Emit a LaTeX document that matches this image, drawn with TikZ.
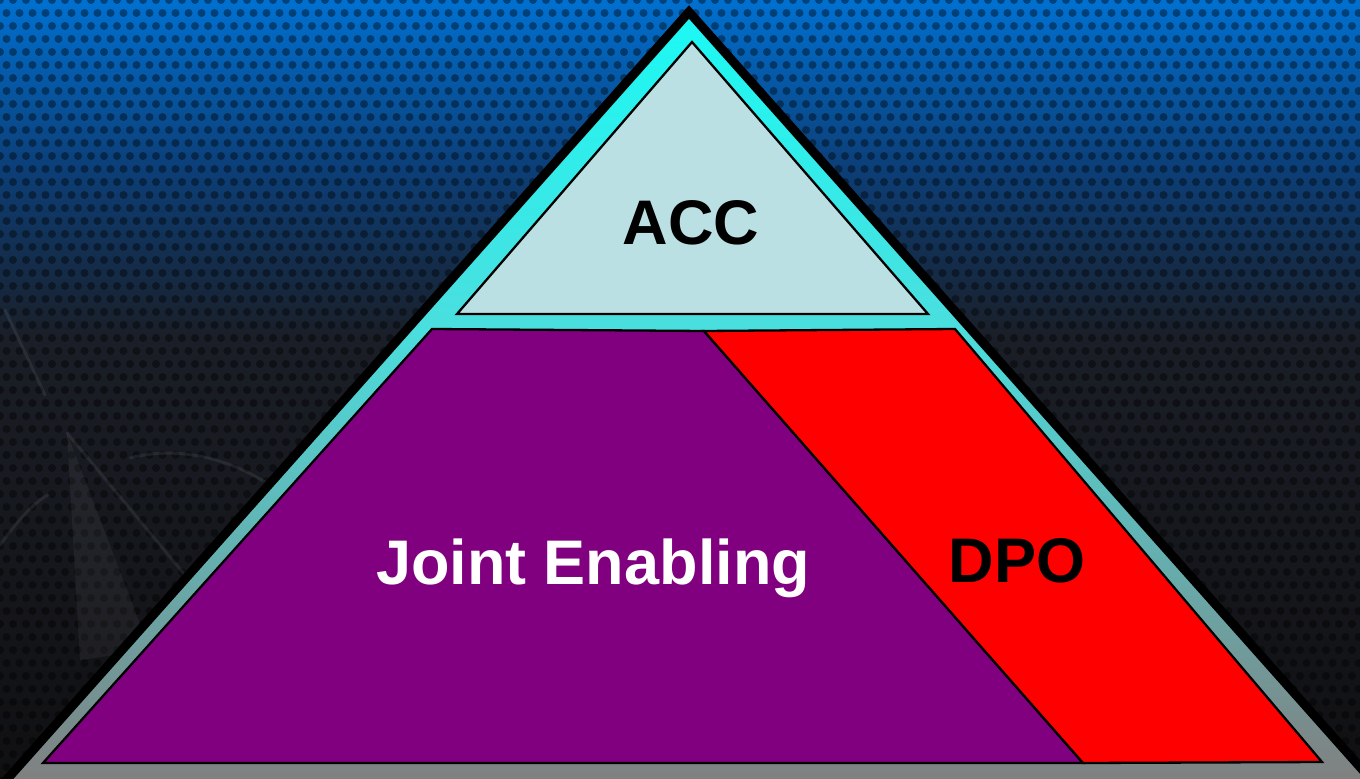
\documentclass[tikz,border=0pt]{standalone}
\usepackage{fontspec}
\setmainfont{Liberation Sans}
\definecolor{bgTop}{RGB}{0,112,208}
\definecolor{bgMid}{RGB}{12,62,118}
\definecolor{bgLow}{RGB}{26,30,38}
\definecolor{bgBot}{RGB}{16,16,18}
\definecolor{cyTop}{RGB}{25,250,245}
\definecolor{cyMid}{RGB}{75,222,222}
\definecolor{grayB}{RGB}{128,128,128}
\definecolor{accFill}{RGB}{187,224,227}
\definecolor{jePurple}{RGB}{128,0,128}
\definecolor{dpoRed}{RGB}{255,0,0}
\begin{document}
\begin{tikzpicture}[x=1pt,y=-1pt,
  region/.style={draw=black,line width=2.3pt,line join=miter},
  lbl/.style={font=\fontsize{63}{63}\selectfont\bfseries,anchor=base,inner sep=0pt},
  faint/.style={draw=white,draw opacity=0.07,line width=3pt,line cap=round}]
\useasboundingbox (0,0) rectangle (1360,779);
% background
\shade[top color=bgTop,bottom color=bgLow,middle color=bgMid] (0,0) rectangle (1360,340);
\shade[top color=bgLow,bottom color=bgBot] (0,339) rectangle (1360,779);
\foreach \r in {0,...,60}{
  \foreach \c in {0,...,105}{
    \fill[black,fill opacity=0.4] ({\c*13+mod(\r,2)*6.5},{\r*13}) circle (4);
  }
}
% faint compass shapes on the left
\fill[white,fill opacity=0.05] (67,433) -- (150,650) -- (80,660) -- cycle;
\draw[faint] (5,310) -- (45,395);
\draw[faint] (67,433) -- (185,575);
\draw[faint] (130,458) .. controls (180,445) and (230,460) .. (265,482);
\draw[faint] (0,545) .. controls (15,525) and (30,505) .. (48,495);
\draw[faint] (20,760) .. controls (60,730) and (100,700) .. (140,660);
% outer pyramid
\coordinate (T) at (689,12);
\coordinate (BL) at (-38,830);
\coordinate (BR) at (1416,830);
\begin{scope}
  \clip (T) -- (BL) -- (BR) -- cycle;
  \shade[top color=cyTop,bottom color=cyMid] (0,0) rectangle (1360,332);
  \shade[top color=cyMid,bottom color=grayB] (0,330) rectangle (1360,780);
\end{scope}
\draw[line width=9pt,line join=miter] (T) -- (BL) -- (BR) -- cycle;
% ACC
\coordinate (a1) at (692,42);
\coordinate (a2) at (457,314);
\coordinate (a3) at (928,314);
\filldraw[region,fill=accFill] (a1) -- (a2) -- (a3) -- cycle;
% Joint Enabling
\coordinate (j1) at (432,329);
\coordinate (j2) at (704,331);
\coordinate (j3) at (1083,763);
\coordinate (j4) at (43,763);
\filldraw[region,fill=jePurple] (j1) -- (j2) -- (j3) -- (j4) -- cycle;
% DPO
\coordinate (d2) at (955,329);
\coordinate (d3) at (1322,762);
\filldraw[region,fill=dpoRed] (j2) -- (d2) -- (d3) -- (j3) -- cycle;
% labels
\node[lbl,text=black] (acc) at (691,244) {ACC};
\node[lbl,text=white] (je) at (593,584) {Joint Enabling};
\node[lbl,text=black] (dpo) at (1017,582) {DPO};
\end{tikzpicture}
\end{document}
